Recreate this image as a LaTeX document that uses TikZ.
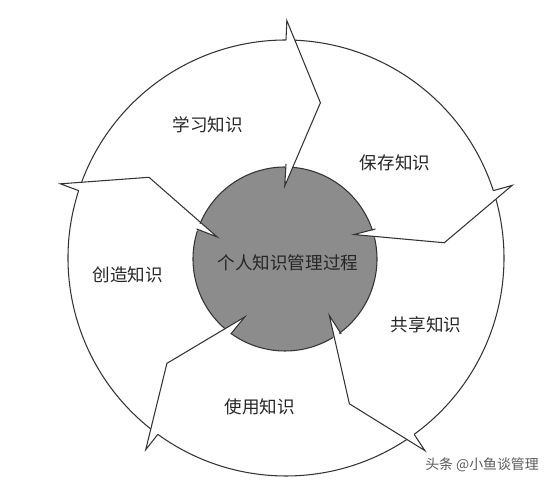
\documentclass[tikz,border=0pt]{standalone}
\usepackage{fontspec}
\newfontfamily\cnfont{Noto Sans CJK SC}
\tikzset{%
  % Specifications for style of lines and nodes:
         ring/.style = {draw=black!80, line width=0.6pt},
          hub/.style = {fill=black!45},
        stage/.style = {inner sep=0pt, text=black!85,
                        font=\cnfont\fontsize{10pt}{12pt}\selectfont},
        stamp/.style = {inner sep=0pt, text=black!65,
                        font=\cnfont\fontsize{7.9pt}{9pt}\selectfont},
}
\begin{document}
\begin{tikzpicture}[scale=0.02, yscale=-1]
  \useasboundingbox (-286,-258) rectangle (266,229);
  % Inner circle, with the five notches cut out
  \fill[hub] (-1,1) circle[radius=92];
  \foreach \a in {-90,-18,54,126,198}
    \fill[white] (\a-1:72) -- (\a:94) -- (\a+12.5:159) -- cycle;
  % Arcs and the jagged borders between the stages
  \foreach \a in {-90,-18,54,126,198} {
    \draw[ring] (\a+2.33:218) arc[start angle=\a+2.33, end angle=\a+72, radius=218];
    \draw[ring] ([shift={(-1,1)}]\a+4.48:92) arc[start angle=\a+4.48, end angle=\a+71.93, radius=92];
    \draw[ring] (\a:218) -- (\a+0.2:237.5) -- (\a+12.5:159) -- (\a-1:72) -- (\a:94);
  }
  % Specification of nodes (position, etc.)
  \node (core)		[stage] at (2,5)		{个人知识管理过程};
  \node (learn)		[stage] at (-78,-133)	{学习知识};
  \node (store)		[stage] at (109,-95)	{保存知识};
  \node (share)		[stage] at (140,67)		{共享知识};
  \node (use)		[stage] at (-26,149)	{使用知识};
  \node (create)	[stage] at (-158,17)	{创造知识};
  \node (source)	[stamp] at (196,207)	{头条 @小鱼谈管理};
\end{tikzpicture}
\end{document}
